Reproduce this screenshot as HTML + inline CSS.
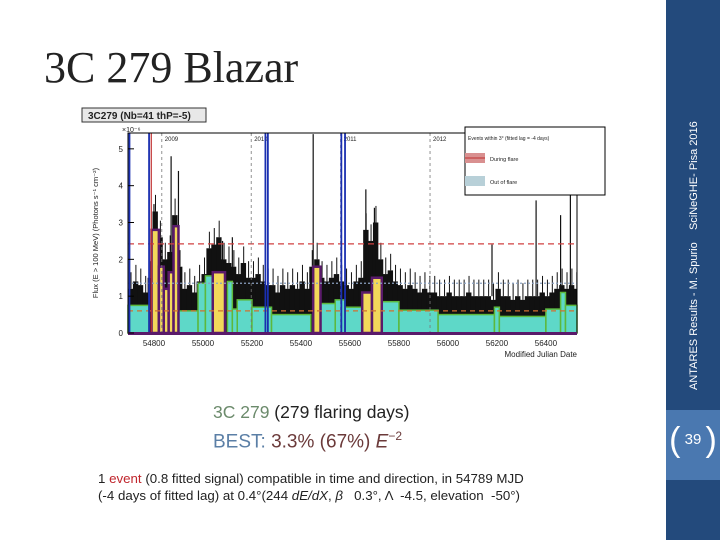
<!DOCTYPE html>
<html><head><meta charset="utf-8">
<style>
html,body{margin:0;padding:0;background:#fff;}
body{width:720px;height:540px;position:relative;overflow:hidden;font-family:"Liberation Sans",sans-serif;}
.abs{position:absolute;}
</style></head>
<body>
<div class="abs" style="left:44px;top:42px;font-family:'Liberation Serif',serif;font-size:44px;color:#222;">3C 279 Blazar</div>

<svg class="abs" style="left:0;top:0" width="666" height="400" id="chart">
  <rect x="80" y="105" width="520" height="258" fill="#fff"/>
  <rect x="82" y="108" width="124" height="14" fill="#e8e8e8" stroke="#333" stroke-width="1"/>
  <text x="88" y="119" font-size="10" font-weight="bold" fill="#222">3C279 (Nb=41 thP=-5)</text>
  <g id="plot"></g>
</svg>

<div class="abs" style="left:666px;top:0;width:54px;height:540px;background:#234a7c;"></div>
<div class="abs" style="left:666px;top:410px;width:54px;height:70px;background:#4a78b0;"></div>
<div class="abs" style="left:666px;top:420px;width:54px;text-align:center;color:#fff;font-size:15px;line-height:40px;">
<span style="font-size:34px;vertical-align:middle;font-weight:200">(</span> <span style="vertical-align:middle">39</span> <span style="font-size:34px;vertical-align:middle;font-weight:200">)</span></div>
<div class="abs" style="left:688px;top:390px;transform-origin:0 0;transform:rotate(-90deg);white-space:nowrap;color:#fff;font-size:11px;">ANTARES Results - M. Spurio&nbsp;&nbsp;&nbsp; SciNeGHE- Pisa 2016</div>

<div class="abs" style="left:213px;top:402px;font-size:17.5px;color:#222;white-space:nowrap;"><span style="color:#6b8a6b">3C 279</span> (279 flaring days)</div>
<div class="abs" style="left:213px;top:429px;font-size:19px;color:#6b3a3a;white-space:nowrap;"><span style="color:#5b7fa6">BEST:</span> 3.3% (67%) <i>E</i><sup style="font-size:12px">−2</sup></div>
<div class="abs" style="left:98px;top:471px;font-size:13.3px;color:#222;white-space:nowrap;">1 <span style="color:#c0262d">event</span> (0.8 fitted signal) compatible in time and direction, in 54789 MJD</div>
<div class="abs" style="left:98px;top:488px;font-size:13.3px;color:#222;white-space:nowrap;">(-4 days of fitted lag) at 0.4°(244 <i>dE/dX</i>, <i>β</i> &nbsp; 0.3°, Λ &nbsp;-4.5, elevation &nbsp;-50°)</div>

<script>
const fluxStart = 54694;
const fluxStep = 20;
const fluxValues = [1.2,1.4,1.3,1.1,1.5,3.3,2.6,2.0,2.2,3.2,1.8,1.2,1.3,1.1,1.4,1.6,2.3,2.4,2.6,2.0,1.9,1.8,1.6,1.9,1.5,1.5,1.6,1.4,1.3,1.3,1.1,1.3,1.2,1.3,1.2,1.4,1.2,1.8,2.0,1.5,1.4,1.5,1.6,1.4,1.3,1.2,1.4,1.5,2.8,2.5,3.0,2.0,1.6,1.7,1.4,1.3,1.2,1.3,1.2,1.1,1.2,1.1,1.1,1.0,1.0,1.1,1.0,1.0,1.0,1.1,1.0,1.0,1.0,1.0,0.9,1.2,1.0,1.0,0.9,1.0,0.9,1.0,1.0,1.0,1.1,1.0,1.1,1.2,1.3,1.2,1.3,1.2];
const spikeMjd = [54800,54870,54900,55080,55120,55450,55665,55700,56180,56360,56460,56500];
const spikeTop = [3.5,4.8,4.4,2.5,2.6,5.4,3.9,3.4,2.4,3.6,3.2,5.4];
const baseStart = [54694,54900,54980,55010,55100,55120,55140,55200,55280,55480,55540,55580,55730,55800,55960,56190,56210,56400,56460,56480];
const baseEnd   = [54780,54980,55010,55040,55120,55140,55200,55280,55440,55540,55580,55650,55800,55960,56190,56210,56400,56460,56480,56527];
const baseValue = [0.75,0.6,1.35,1.55,1.4,0.65,0.9,0.7,0.5,0.8,0.9,0.7,0.85,0.62,0.5,0.7,0.45,0.65,1.1,0.75];
const flareStart = [54790,54820,54840,54860,54880,55040,55450,55650,55690];
const flareEnd   = [54820,54840,54860,54880,54900,55090,55480,55690,55730];
const flareValue = [2.8,1.8,1.2,1.65,2.9,1.65,1.8,1.1,1.5];
const blueLines = [54700,54780,55255,55265,55565,55580];
const yearMjd = [54832,55197,55562,55927];
const yearLabels = ["2009","2010","2011","2012"];
const xTicks = [54800,55000,55200,55400,55600,55800,56000,56200,56400];
const yTicks = [0,1,2,3,4,5];
const flareThreshold = 2.42, lowLevel = 0.6, outLevel = 1.35;

const X0=128,X1=577,Y0=333,Y1=133,MJD0=54694,MJD1=56527,F1=5.43;
const xs = m => X0 + (m-MJD0)*(X1-X0)/(MJD1-MJD0);
const ys = f => Y0 - f*(Y0-Y1)/F1;
const NS="http://www.w3.org/2000/svg";
const g=document.getElementById('plot');
function el(t,a){const e=document.createElementNS(NS,t);for(const k in a)e.setAttribute(k,a[k]);g.appendChild(e);return e;}

// flux bars (black), drawn first so blocks overlay the lower part
fluxValues.forEach((v,i)=>{
  const m=fluxStart+i*fluxStep;
  const m2=Math.min(m+fluxStep,MJD1);
  const r=el('rect',{x:xs(m),y:ys(v),width:xs(m2)-xs(m)+0.5,height:Y0-ys(v),fill:'#111'});
  
  
  const l=el('line',{x1:xs(m)+3,x2:xs(m)+3,y1:ys(v+0.45),y2:ys(v),stroke:'#111','stroke-width':1});
  
  
});
spikeMjd.forEach((m,i)=>{
  const l=el('line',{x1:xs(m),x2:xs(m),y1:ys(spikeTop[i]),y2:ys(1),stroke:'#111','stroke-width':1.2});
  
  
});
// base (out of flare) teal blocks
baseStart.forEach((s,i)=>{
  const r=el('rect',{x:xs(s),y:ys(baseValue[i]),width:xs(baseEnd[i])-xs(s),height:Y0-ys(baseValue[i]),fill:'#5ed8c8',stroke:'#5cb83c','stroke-width':1.5});
  
  
});
// flare blocks
flareStart.forEach((s,i)=>{
  const r=el('rect',{x:xs(s),y:ys(flareValue[i]),width:xs(flareEnd[i])-xs(s),height:Y0-ys(flareValue[i]),fill:'#f2d85a',stroke:'#5a1a6a','stroke-width':2.5});
  
  
});
// horizontal levels
[[flareThreshold,'#d04040','6,4','flare-threshold-line'],[lowLevel,'#d07030','5,4','low-level-line'],[outLevel,'#8aa0c0','2,2','out-of-flare-level']].forEach(a=>{
  const l=el('line',{x1:X0,x2:X1,y1:ys(a[0]),y2:ys(a[0]),stroke:a[1],'stroke-width':1.3,'stroke-dasharray':a[2]});
  
  
});
// year lines
yearMjd.forEach((m,i)=>{
  const l=el('line',{x1:xs(m),x2:xs(m),y1:Y1,y2:Y0,stroke:'#777','stroke-width':0.8,'stroke-dasharray':'3,3'});
  
  
  const t=el('text',{x:xs(m)+3,y:Y1+8,'font-size':6,fill:'#222'});t.textContent=yearLabels[i];
  
  
});
// blue event lines
blueLines.forEach(m=>{
  const l=el('line',{x1:xs(m),x2:xs(m),y1:Y1,y2:Y0,stroke:'#1a2fb0','stroke-width':1.8});
  
  
});
const rl=el('line',{x1:xs(54789),x2:xs(54789),y1:Y1,y2:Y0,stroke:'#c03030','stroke-width':1.2});


// axes frame
const fr=el('rect',{x:X0,y:Y1,width:X1-X0,height:Y0-Y1,fill:'none',stroke:'#000','stroke-width':1});


const xb=el('rect',{x:X0,y:Y0-1,width:X1-X0,height:3,fill:'#5a1a6a'});


yTicks.forEach(v=>{
  const t=el('text',{x:X0-5,y:ys(v)+3,'font-size':8,'text-anchor':'end',fill:'#222'});t.textContent=v;
  
  
  const k=el('line',{x1:X0,x2:X0+6,y1:ys(v),y2:ys(v),stroke:'#000'});
  
  
});
xTicks.forEach(v=>{
  const t=el('text',{x:xs(v),y:Y0+13,'font-size':8,'text-anchor':'middle',fill:'#222'});t.textContent=v;
  
  
});
const ex=el('text',{x:X0-6,y:Y1-1,'font-size':7,fill:'#222'});ex.textContent='×10⁻⁶';


const xt=el('text',{x:X1,y:Y0+24,'font-size':8,'text-anchor':'end',fill:'#222'});xt.textContent='Modified Julian Date';


const yt=el('text',{x:0,y:0,'font-size':7.5,'text-anchor':'middle',fill:'#222',transform:`translate(98,${(Y0+Y1)/2}) rotate(-90)`});yt.textContent='Flux (E > 100 MeV) (Photons s⁻¹ cm⁻²)';


// legend
const lg=el('rect',{x:465,y:127,width:140,height:68,fill:'#fff',stroke:'#000','stroke-width':1});


const lt=el('text',{x:468,y:140,'font-size':5,fill:'#222'});lt.textContent='Events within 3° (fitted lag = -4 days)';


const s1=el('rect',{x:465,y:153,width:20,height:10,fill:'#d99090'});


const s1l=el('line',{x1:465,x2:485,y1:158,y2:158,stroke:'#c03030'});


const t1=el('text',{x:490,y:161,'font-size':5.5,fill:'#222'});t1.textContent='During flare';


const s2=el('rect',{x:465,y:176,width:20,height:10,fill:'#b8d0d8'});


const t2=el('text',{x:490,y:184,'font-size':5.5,fill:'#222'});t2.textContent='Out of flare';


</script>
</body></html>
